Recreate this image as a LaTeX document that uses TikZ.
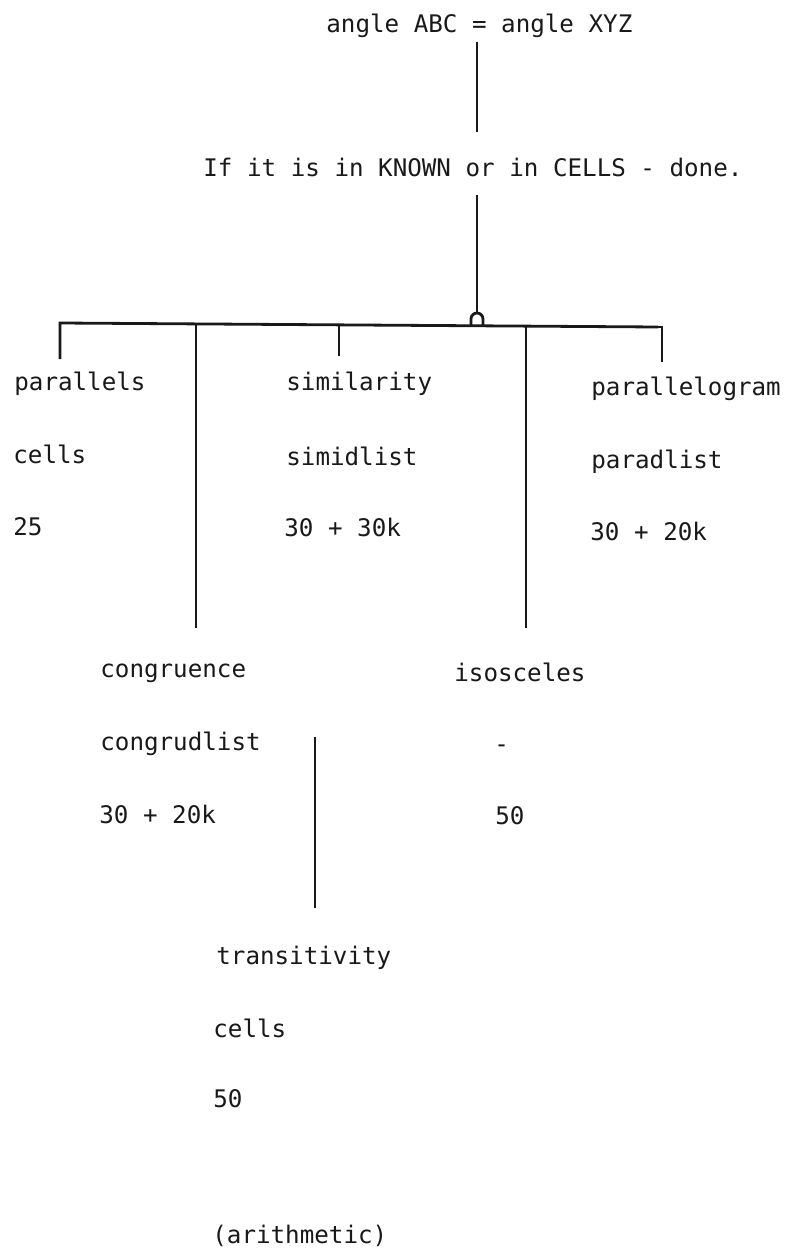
\documentclass[tikz,border=0pt]{standalone}
\usepackage{fontspec}
\setmonofont{DejaVu Sans Mono}
\begin{document}
\begin{tikzpicture}[x=0.5pt,y=-0.5pt,
  lbl/.style={font=\ttfamily\fontsize{12.1}{14}\selectfont, anchor=base west, inner sep=0pt, text=black!90},
  conn/.style={line width=1.4pt, line cap=butt, draw=black!90}]
\useasboundingbox[fill=white] (0,0) rectangle (793,1257);
% texts
\node[lbl] (title) at (326,33) {angle ABC = angle XYZ};
\node[lbl] (ifn) at (203,177) {If it is in KNOWN or in CELLS - done.};
\node[lbl] (par) at (14,390) {parallels};
\node[lbl] (parA) at (13,463) {cells};
\node[lbl] (parB) at (13,535) {25};
\node[lbl] (sim) at (286,390) {similarity};
\node[lbl] (simA) at (286,465) {simidlist};
\node[lbl] (simB) at (284,536) {30 + 30k};
\node[lbl] (pgm) at (591,395) {parallelogram};
\node[lbl] (pgmA) at (591,468) {paradlist};
\node[lbl] (pgmB) at (590,540) {30 + 20k};
\node[lbl] (con) at (100,677) {congruence};
\node[lbl] (conA) at (100,750) {congrudlist};
\node[lbl] (conB) at (99,823) {30 + 20k};
\node[lbl] (iso) at (454,681) {isosceles};
\node[lbl] (isoA) at (494,752) {-};
\node[lbl] (isoB) at (495,824) {50};
\node[lbl] (tra) at (216,964) {transitivity};
\node[lbl] (traA) at (213,1037) {cells};
\node[lbl] (traB) at (213,1107) {50};
\node[lbl] (ari) at (212,1243) {(arithmetic)};
% connector coordinates
\coordinate (t1) at (477,42);
\coordinate (t2) at (477,132);
\coordinate (i1) at (477,195);
\coordinate (hubtop) at (477,313);
\coordinate (hubL) at (471,325);
\coordinate (barL) at (60,323);
\coordinate (barR) at (658,327);
\coordinate (parT) at (60,359);
\coordinate (conT0) at (196,324);
\coordinate (conT) at (196,628);
\coordinate (simT0) at (339,325);
\coordinate (simT) at (339,356);
\coordinate (isoT0) at (526,326);
\coordinate (isoT) at (526,628);
\coordinate (pgmT0) at (662,327);
\coordinate (pgmT) at (662,362);
\coordinate (tr1) at (315,737);
\coordinate (tr2) at (315,908);
% connectors
\draw[conn] (t1) -- (t2);
\draw[conn] (i1) -- (hubtop);
\draw[conn] (hubL) -- ++(0,-6) arc[start angle=180,end angle=360,radius=6] -- ++(0,6);
\draw[conn] (parT) -- (barL) -- (barR);
\draw[conn] (barR -| pgmT0) ++(-4,0) -- (pgmT0) -- (pgmT);
\draw[conn] (conT0) -- (conT);
\draw[conn] (simT0) -- (simT);
\draw[conn] (isoT0) -- (isoT);
\draw[conn] (tr1) -- (tr2);
\end{tikzpicture}
\end{document}
